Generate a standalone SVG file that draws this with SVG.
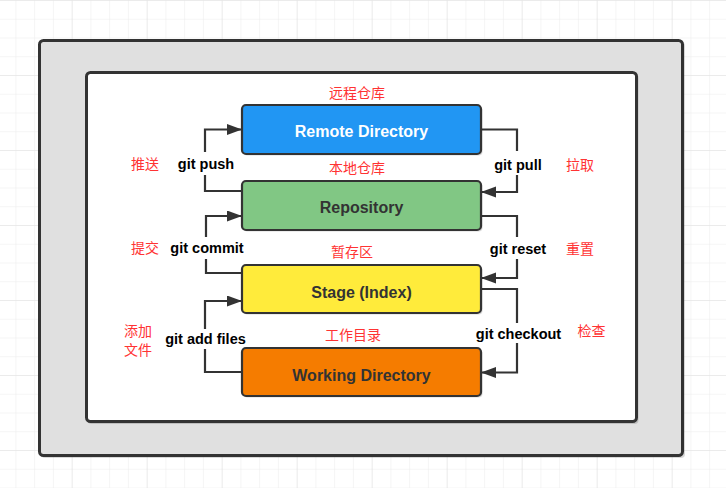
<svg xmlns="http://www.w3.org/2000/svg" width="726" height="488" viewBox="0 0 726 488">
  <defs>
    <pattern id="grid" width="18.75" height="18.75" patternUnits="userSpaceOnUse" x="15.4" y="0">
      <path d="M0,0 H18.75 M0,0 V18.75" fill="none" stroke="#ececec" stroke-width="1"/>
    </pattern>
    <pattern id="gridMajor" width="75" height="75" patternUnits="userSpaceOnUse" x="71.7" y="0">
      <path d="M0,0 H75 M0,0 V75" fill="none" stroke="#e2e2e2" stroke-width="1"/>
    </pattern>
    <marker id="arrow" markerUnits="userSpaceOnUse" markerWidth="16" markerHeight="12" refX="15" refY="5.5" orient="auto">
      <path d="M0,0 L15,5.5 L0,11 Z" fill="#333"/>
    </marker>
  </defs>
  <style>
    .conn { fill: none; stroke: #333; stroke-width: 2.2; marker-end: url(#arrow); }
    .node rect.box { stroke: #333; stroke-width: 2.2; }
    .shadow { fill: #000; opacity: 0.15; }
    .ntext { font-family: "Liberation Sans", Arial, sans-serif; font-weight: bold; font-size: 16px; text-anchor: middle; fill: #333; }
    .lbl { font-family: "Liberation Sans", Arial, sans-serif; font-weight: bold; font-size: 14.5px; text-anchor: middle; fill: #000; }
    .lblbg { fill: #fff; }
    .cn { font-family: "Noto Sans CJK SC", "Noto Sans", sans-serif; font-size: 14px; text-anchor: middle; fill: #ff3333; }
  </style>
  <rect width="726" height="488" fill="#fff"/>
  <rect width="726" height="488" fill="url(#grid)"/>
  <rect width="726" height="488" fill="url(#gridMajor)"/>

  <g id="outer">
    <rect x="41" y="42" width="644" height="416" rx="4" class="shadow"/>
    <rect x="39.5" y="40.5" width="643" height="415" rx="4" fill="#e0e0e0" stroke="#333" stroke-width="3"/>
  </g>
  <g id="inner">
    <rect x="87.5" y="74" width="551" height="350" rx="4" class="shadow"/>
    <rect x="86.5" y="72.5" width="550" height="349" rx="4" fill="#fff" stroke="#333" stroke-width="3"/>
  </g>

  <g id="connectors">
    <path class="conn" d="M242,191 H205 V129.5 H242"/>
    <path class="conn" d="M481,129.5 H517 V192 H481"/>
    <path class="conn" d="M242,273 H206 V216 H242"/>
    <path class="conn" d="M481,216 H517 V278 H481"/>
    <path class="conn" d="M242,372 H205 V301 H242"/>
    <path class="conn" d="M481,289 H517 V372.5 H481"/>
    <rect class="lblbg" x="176" y="152" width="60" height="23"/>
    <text class="lbl" x="206" y="169">git push</text>
    <rect class="lblbg" x="489" y="151" width="58" height="24"/>
    <text class="lbl" x="518" y="170">git pull</text>
    <rect class="lblbg" x="167" y="237" width="81" height="22"/>
    <text class="lbl" x="207" y="253">git commit</text>
    <rect class="lblbg" x="487" y="237" width="62" height="22"/>
    <text class="lbl" x="518" y="254">git reset</text>
    <rect class="lblbg" x="162" y="329" width="87" height="20"/>
    <text class="lbl" x="205.5" y="344">git add files</text>
    <rect class="lblbg" x="473" y="323" width="91" height="20"/>
    <text class="lbl" x="518.5" y="339">git checkout</text>
  </g>

  <g id="remote" class="node">
    <rect x="243.5" y="106.5" width="239" height="49" rx="4" class="shadow"/>
    <rect class="box" x="242" y="105" width="239" height="49" rx="4" fill="#2196f3"/>
    <text class="ntext" x="361.5" y="136.5" style="fill:#fff">Remote Directory</text>
  </g>
  <g id="repository" class="node">
    <rect x="243.5" y="182.5" width="239" height="49" rx="4" class="shadow"/>
    <rect class="box" x="242" y="181" width="239" height="49" rx="4" fill="#81c784"/>
    <text class="ntext" x="361.5" y="212.5">Repository</text>
  </g>
  <g id="stage" class="node">
    <rect x="243.5" y="266.5" width="239" height="48" rx="4" class="shadow"/>
    <rect class="box" x="242" y="265" width="239" height="48" rx="4" fill="#ffeb3b"/>
    <text class="ntext" x="361.5" y="297.5">Stage (Index)</text>
  </g>
  <g id="working" class="node">
    <rect x="243.5" y="349.5" width="239" height="48" rx="4" class="shadow"/>
    <rect class="box" x="242" y="348" width="239" height="48" rx="4" fill="#f57c00"/>
    <text class="ntext" x="361.5" y="380.5">Working Directory</text>
  </g>

  <g id="cn-labels">
    <text class="cn" x="357" y="97.5">远程仓库</text>
    <text class="cn" x="357" y="173">本地仓库</text>
    <text class="cn" x="352" y="256.5">暂存区</text>
    <text class="cn" x="353" y="339.5">工作目录</text>
    <text class="cn" x="145" y="169">推送</text>
    <text class="cn" x="580" y="170">拉取</text>
    <text class="cn" x="145" y="253">提交</text>
    <text class="cn" x="580" y="253.5">重置</text>
    <text class="cn" x="138" y="336">添加</text>
    <text class="cn" x="138" y="354.5">文件</text>
    <text class="cn" x="591.5" y="336">检查</text>
  </g>
</svg>
